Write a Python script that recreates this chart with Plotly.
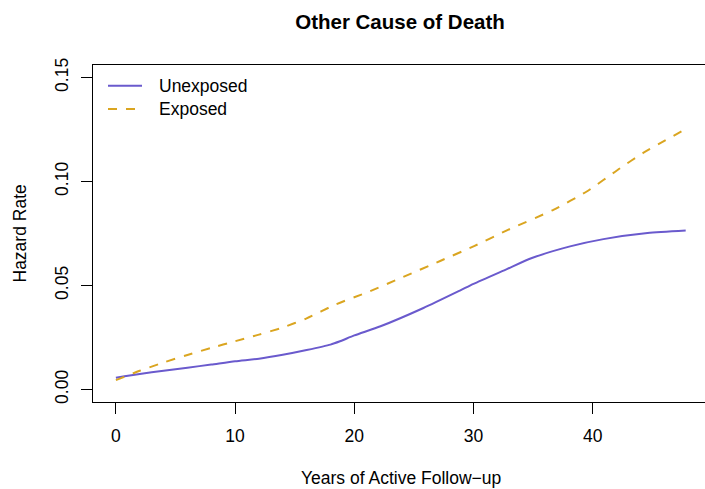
import plotly.graph_objects as go

# Smoothed hazard estimates by years of active follow-up
years_unexposed = [0, 2, 4, 6, 8, 10, 12, 14, 16, 18, 18.8, 20, 22.2, 25.8,
                   28.9, 30, 32.8, 34.9, 38.1, 40.9, 44.6, 47.8]
hazard_unexposed = [0.0057, 0.0075, 0.0090, 0.0105, 0.0120, 0.0136, 0.0148,
                    0.0167, 0.0190, 0.0216, 0.0232, 0.0260, 0.0304, 0.0392,
                    0.0477, 0.0508, 0.0579, 0.0632, 0.0688, 0.0723, 0.0752,
                    0.0764]

years_exposed = [0, 2, 4, 6, 8, 10, 12, 14, 16, 18.4, 21.3, 24.1, 27.2,
                 30, 32.8, 36.7, 39.5, 42.3, 44.2, 47.8]
hazard_exposed = [0.0045, 0.0090, 0.0130, 0.0166, 0.0200, 0.0232, 0.0264,
                  0.0298, 0.0342, 0.0408, 0.0472, 0.0541, 0.0618,
                  0.0688, 0.0765, 0.0864, 0.0952, 0.1064, 0.1136, 0.1252]

x_ticks = [0, 10, 20, 30, 40]
y_ticks = [0.00, 0.05, 0.10, 0.15]
series_names = ["Unexposed", "Exposed"]

PURPLE = "#6A5ACD"
GOLD = "#DAA520"
FONT = "Liberation Sans, Arial, Helvetica, sans-serif"
FS = 17.5

W, H = 705, 489
L, R, T, B = 93, 0, 65, 87
plot_w = W - L - R
plot_h = H - T - B

fig = go.Figure()
fig.add_trace(go.Scatter(x=years_unexposed, y=hazard_unexposed, mode="lines",
                         name=series_names[0],
                         line=dict(color=PURPLE, width=2, shape="spline",
                                   smoothing=0.6)))
fig.add_trace(go.Scatter(x=years_exposed, y=hazard_exposed, mode="lines",
                         name=series_names[1],
                         line=dict(color=GOLD, width=2, dash="9px,9px",
                                   shape="spline", smoothing=0.6)))


def px_x(p):
    return (p - L) / plot_w


def px_y(p):
    return (T + plot_h - p) / plot_h


# hand-drawn legend in the top-left corner of the panel
legend_rows = [(series_names[0], PURPLE, "solid", 85.7),
               (series_names[1], GOLD, "9px,9px", 109.0)]
shapes = []
annotations = []
for name, color, dash, ypix in legend_rows:
    shapes.append(dict(type="line", xref="paper", yref="paper",
                       x0=px_x(108), x1=px_x(142), y0=px_y(ypix), y1=px_y(ypix),
                       line=dict(color=color, width=2, dash=dash)))
    annotations.append(dict(text=name, xref="paper", yref="paper",
                            x=px_x(157), y=px_y(ypix), xanchor="left",
                            yanchor="middle", showarrow=False,
                            font=dict(family=FONT, size=FS, color="black")))

# axis titles
annotations.append(dict(text="Years of Active Follow\u2212up", xref="paper",
                        yref="paper", x=px_x(401), y=px_y(478),
                        xanchor="center", yanchor="middle", showarrow=False,
                        font=dict(family=FONT, size=FS, color="black")))
annotations.append(dict(text="Hazard Rate", xref="paper", yref="paper",
                        x=px_x(19.5), y=px_y(234), xanchor="center",
                        yanchor="middle", textangle=-90, showarrow=False,
                        font=dict(family=FONT, size=FS, color="black")))

fig.update_layout(
    width=W, height=H,
    margin=dict(l=L, r=R, t=T, b=B, pad=0),
    paper_bgcolor="white", plot_bgcolor="white",
    showlegend=False,
    title=dict(text="<b>Other Cause of Death</b>", xref="container",
               yref="container", x=400 / W, y=1 - 22 / H,
               xanchor="center", yanchor="middle",
               font=dict(family=FONT, size=20.5, color="black")),
    font=dict(family=FONT, size=FS, color="black"),
    shapes=shapes,
    annotations=annotations,
)

fig.update_xaxes(range=[-1.92, 49.42], tickvals=x_ticks, ticks="outside",
                 ticklen=11, tickwidth=1, tickcolor="black",
                 ticklabelstandoff=7,
                 showline=True, linecolor="black", linewidth=1, mirror=True,
                 showgrid=False, zeroline=False,
                 tickfont=dict(family=FONT, size=FS, color="black"))
fig.update_yaxes(range=[-0.006, 0.156], tickvals=y_ticks, tickformat=".2f",
                 ticks="outside", ticklen=11, tickwidth=1, tickcolor="black",
                 tickangle=-90, ticklabelstandoff=6,
                 showline=True, linecolor="black", linewidth=1, mirror=False,
                 showgrid=False, zeroline=False,
                 tickfont=dict(family=FONT, size=FS, color="black"))

fig.write_html("out.html")
